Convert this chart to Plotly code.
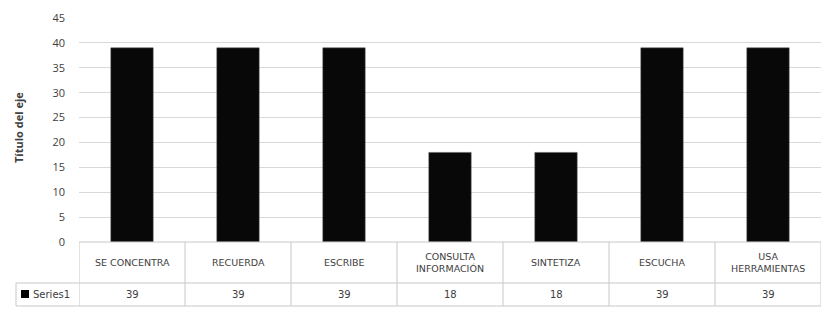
import plotly.graph_objects as go

categories = ["SE CONCENTRA", "RECUERDA", "ESCRIBE", "CONSULTA<br>INFORMACIÓN",
              "SINTETIZA", "ESCUCHA", "USA<br>HERRAMIENTAS"]
series_name = "Series1"
values = [39, 39, 39, 18, 18, 39, 39]
y_ticks = [0, 5, 10, 15, 20, 25, 30, 35, 40, 45]

W, H = 826, 313
ml, mr, mt, mb = 79, 5, 18, 71
pw = W - ml - mr
ph = H - mt - mb

def px_x(px):
    return (px - ml) / pw

def px_y(py):
    return (H - mb - py) / ph

xs = list(range(len(categories)))

fig = go.Figure()
fig.add_trace(go.Bar(
    x=xs, y=values, width=0.4,
    marker=dict(color="#080808", line=dict(color="#555555", width=0.5)),
    showlegend=False, hoverinfo="skip",
))

grid = "#d9d9d9"
tbl = "#c8c8c8"
txt = "#404040"
font_family = "Open Sans, Lato, sans-serif"
table_font = "DejaVu Sans, sans-serif"

shapes = []
row1_bottom = px_y(283)
row2_bottom = px_y(306)
top = 0.0
shapes.append(dict(type="line", xref="paper", yref="paper", x0=0, x1=1, y0=top, y1=top,
                   line=dict(color=tbl, width=1)))
shapes.append(dict(type="line", xref="paper", yref="paper", x0=px_x(16), x1=1, y0=row1_bottom, y1=row1_bottom,
                   line=dict(color=tbl, width=1)))
shapes.append(dict(type="line", xref="paper", yref="paper", x0=px_x(16), x1=1, y0=row2_bottom, y1=row2_bottom,
                   line=dict(color=tbl, width=1)))
for i in range(len(categories) + 1):
    shapes.append(dict(type="line", xref="x", yref="paper", x0=i - 0.5, x1=i - 0.5,
                       y0=top, y1=row2_bottom, line=dict(color=tbl, width=1)))
shapes.append(dict(type="line", xref="paper", yref="paper", x0=px_x(16), x1=px_x(16),
                   y0=row1_bottom, y1=row2_bottom, line=dict(color=tbl, width=1)))
shapes.append(dict(type="rect", xref="paper", yref="paper", x0=px_x(21), x1=px_x(29),
                   y0=px_y(298), y1=px_y(290), fillcolor="#000000", line=dict(width=0)))

annotations = []
mid1 = (top + row1_bottom) / 2
mid2 = (row1_bottom + row2_bottom) / 2
for x, c, v in zip(xs, categories, values):
    annotations.append(dict(x=x, y=mid1, xref="x", yref="paper", text=c, showarrow=False,
                            font=dict(family=table_font, size=9.5, color=txt), yanchor="middle"))
    annotations.append(dict(x=x, y=mid2, xref="x", yref="paper", text=str(v), showarrow=False,
                            font=dict(family=table_font, size=10, color=txt), yanchor="middle"))
annotations.append(dict(x=px_x(31), y=mid2, xref="paper", yref="paper", text=series_name,
                        showarrow=False, xanchor="left", yanchor="middle",
                        font=dict(family=table_font, size=10, color=txt)))
annotations.append(dict(x=px_x(18), y=px_y(128), xref="paper", yref="paper",
                        text="<b>Título del eje</b>", textangle=-90, showarrow=False,
                        xanchor="center", yanchor="middle",
                        font=dict(family=font_family, size=11, color=txt)))

fig.update_layout(
    width=W, height=H,
    margin=dict(l=ml, r=mr, t=mt, b=mb, pad=0),
    paper_bgcolor="white", plot_bgcolor="white",
    xaxis=dict(range=[-0.5, len(categories) - 0.5], showticklabels=False, showgrid=False,
               zeroline=False, showline=False, ticks=""),
    yaxis=dict(range=[0, 45], tickvals=y_ticks, showgrid=True, gridcolor=grid, gridwidth=1,
               zeroline=False, showline=False, ticks="", ticklen=0, ticklabelstandoff=13,
               tickfont=dict(family=font_family, size=11, color="#404040")),
    shapes=shapes,
    annotations=annotations,
    bargap=0.6,
)

fig.write_html("out.html", config={"displayModeBar": False},
               post_script="document.body.style.margin='0';document.body.style.overflow='hidden';")
